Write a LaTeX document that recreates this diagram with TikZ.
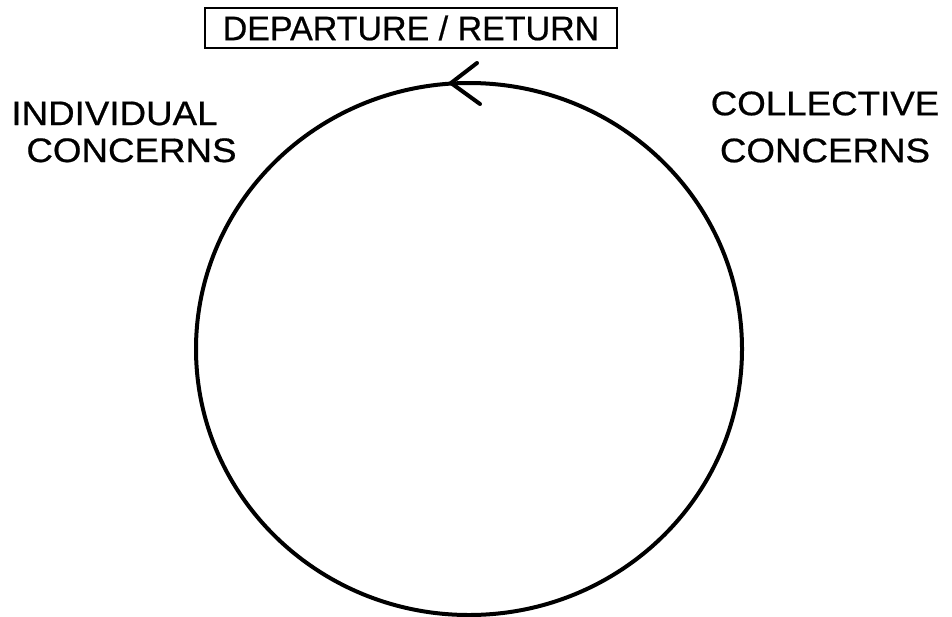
\documentclass[tikz,border=0pt]{standalone}
\usepackage{fontspec}
\setmainfont{Liberation Sans}
\newfontfamily\scanfont{Liberation Sans}[FakeStretch=1.08,FakeBold=0.6]
\begin{document}
\begin{tikzpicture}[x=1pt,y=-1pt,
  lbl/.style={inner sep=0pt,font=\scanfont\fontsize{34}{37}\selectfont},
  ring/.style={line width=4pt}]
  \useasboundingbox (0,0) rectangle (952,616);
  \node[draw,line width=1.8pt,minimum width=412pt,minimum height=40pt,inner sep=0pt,font=\fontsize{34}{36}\selectfont\addfontfeature{FakeBold=0.6}] (trip) at (411,28) {DEPARTURE / RETURN};
  \node[lbl,align=left] (indiv) at (124,132) {INDIVIDUAL\\\hspace*{15pt}CONCERNS};
  \node[lbl,align=center,font=\scanfont\fontsize{34}{47}\selectfont] (coll) at (825,127) {COLLECTIVE\\CONCERNS};
  \draw[ring] (469,349) ellipse [x radius=273, y radius=266];
  \coordinate (tip) at (451,83);
  \draw[ring,line cap=round] ([shift={(26,-20)}]tip) -- (tip) -- ([shift={(29,21)}]tip);
\end{tikzpicture}
\end{document}
